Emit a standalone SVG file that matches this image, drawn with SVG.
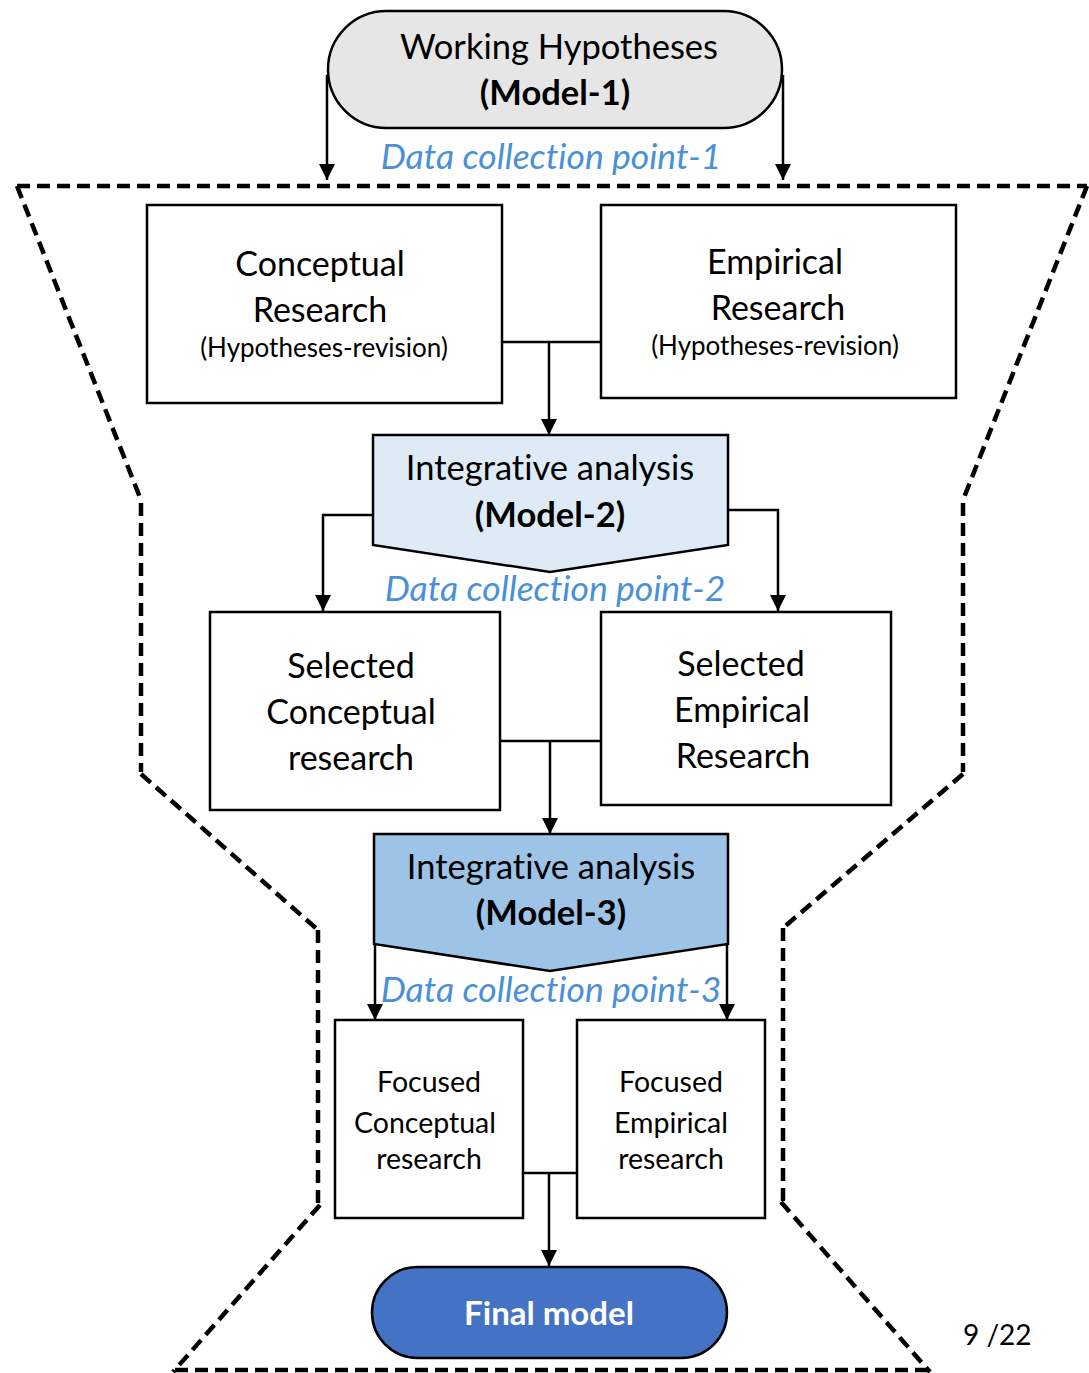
<svg xmlns="http://www.w3.org/2000/svg" width="1089" height="1373" viewBox="0 0 1089 1373">
<defs>
<marker id="arr" markerWidth="16" markerHeight="16" refX="16" refY="8" orient="auto" markerUnits="userSpaceOnUse" viewBox="0 0 16 16">
<path d="M0,0 L16,8 L0,16 z" fill="#000"/>
</marker>
<style>
text{font-variant-ligatures:none}
.t{font-family:Lato,"Liberation Sans",sans-serif;fill:#000;text-anchor:middle}
.b{font-weight:bold}
.dcp{font-family:Lato,"Liberation Sans",sans-serif;font-style:italic;fill:#4a90d9;text-anchor:middle;font-size:35.5px}
.box{fill:#fff;stroke:#000;stroke-width:2.5}
.con{fill:none;stroke:#000;stroke-width:2.5}
.fun{fill:none;stroke:#000;stroke-width:4.5;stroke-dasharray:13 7}
</style>
</defs>
<rect width="1089" height="1373" fill="#fff"/>

<g id="funnel">
<line class="fun" x1="17" y1="186" x2="1087" y2="186"/>
<line class="fun" x1="17" y1="186" x2="141" y2="500"/>
<line class="fun" x1="141" y1="503" x2="141" y2="772"/>
<line class="fun" x1="141" y1="774" x2="318" y2="930"/>
<line class="fun" x1="318" y1="930" x2="318" y2="1205"/>
<line class="fun" x1="320" y1="1205" x2="173" y2="1372"/>
<line class="fun" x1="175" y1="1370" x2="930" y2="1370"/>
<line class="fun" x1="1087" y1="186" x2="963" y2="500"/>
<line class="fun" x1="963" y1="503" x2="963" y2="772"/>
<line class="fun" x1="963" y1="774" x2="783" y2="928"/>
<line class="fun" x1="783" y1="928" x2="783" y2="1202"/>
<line class="fun" x1="781" y1="1202" x2="930" y2="1372"/>
</g>

<g id="connectors">
<path class="con" d="M327,75 V180" marker-end="url(#arr)"/>
<path class="con" d="M783,75 V180" marker-end="url(#arr)"/>
<path class="con" d="M502,342 H601"/>
<path class="con" d="M549,342 V435" marker-end="url(#arr)"/>
<path class="con" d="M373,515 H323 V611" marker-end="url(#arr)"/>
<path class="con" d="M728,510 H778 V611" marker-end="url(#arr)"/>
<path class="con" d="M500,741 H601"/>
<path class="con" d="M550,741 V834" marker-end="url(#arr)"/>
<path class="con" d="M375,944 V1020" marker-end="url(#arr)"/>
<path class="con" d="M727,944 V1020" marker-end="url(#arr)"/>
<path class="con" d="M523,1173 H577"/>
<path class="con" d="M549,1173 V1266" marker-end="url(#arr)"/>
</g>

<g id="model1">
<rect x="328" y="11" width="454" height="117" rx="58.5" ry="58.5" fill="#e7e6e6" stroke="#000" stroke-width="2.5"/>
<text class="t" x="559" y="59" font-size="34.5">Working Hypotheses</text>
<text class="t b" x="555" y="105" font-size="34.5">(Model-1)</text>
</g>
<text class="dcp" x="551" y="169">Data collection point-1</text>

<g id="conceptual">
<rect class="box" x="147" y="205" width="355" height="198"/>
<text class="t" x="320" y="276" font-size="34">Conceptual</text>
<text class="t" x="320" y="322" font-size="34">Research</text>
<text class="t" x="324" y="357" font-size="26">(Hypotheses-revision)</text>
</g>

<g id="empirical">
<rect class="box" x="601" y="205" width="355" height="193"/>
<text class="t" x="775" y="274" font-size="34">Empirical</text>
<text class="t" x="778" y="320" font-size="34">Research</text>
<text class="t" x="775" y="355" font-size="26">(Hypotheses-revision)</text>
</g>

<g id="model2">
<path d="M373,435 H728 V545 L550,572 L373,545 Z" fill="#deebf7" stroke="#000" stroke-width="2.5"/>
<text class="t" x="550" y="480" font-size="34.5">Integrative analysis</text>
<text class="t b" x="550" y="527" font-size="34.5">(Model-2)</text>
</g>
<text class="dcp" x="555" y="601">Data collection point-2</text>

<g id="selconceptual">
<rect class="box" x="210" y="612" width="290" height="198"/>
<text class="t" x="351" y="678" font-size="34">Selected</text>
<text class="t" x="351" y="724" font-size="34">Conceptual</text>
<text class="t" x="351" y="770" font-size="34">research</text>
</g>

<g id="selempirical">
<rect class="box" x="601" y="612" width="290" height="193"/>
<text class="t" x="741" y="676" font-size="34">Selected</text>
<text class="t" x="742" y="722" font-size="34">Empirical</text>
<text class="t" x="743" y="768" font-size="34">Research</text>
</g>

<g id="model3">
<path d="M374,834 H728 V944 L550,971 L374,944 Z" fill="#9dc3e6" stroke="#000" stroke-width="2.5"/>
<text class="t" x="551" y="879" font-size="34.5">Integrative analysis</text>
<text class="t b" x="551" y="925" font-size="34.5">(Model-3)</text>
</g>
<text class="dcp" x="551" y="1002">Data collection point-3</text>

<g id="focconceptual">
<rect class="box" x="335" y="1020" width="188" height="198"/>
<text class="t" x="429" y="1092" font-size="28.5">Focused</text>
<text class="t" x="425" y="1133" font-size="28.5">Conceptual</text>
<text class="t" x="429" y="1169" font-size="28.5">research</text>
</g>

<g id="focempirical">
<rect class="box" x="577" y="1020" width="188" height="198"/>
<text class="t" x="671" y="1092" font-size="28.5">Focused</text>
<text class="t" x="671" y="1133" font-size="28.5">Empirical</text>
<text class="t" x="671" y="1169" font-size="28.5">research</text>
</g>

<g id="finalmodel">
<rect x="372" y="1267" width="355" height="91" rx="45.5" ry="45.5" fill="#4472c4" stroke="#000" stroke-width="2.5"/>
<text class="t b" x="549" y="1325" font-size="33" style="fill:#fff">Final model</text>
</g>

<text x="963" y="1345" font-family="Lato,'Liberation Sans',sans-serif" font-size="28" fill="#000">9 /22</text>
</svg>
